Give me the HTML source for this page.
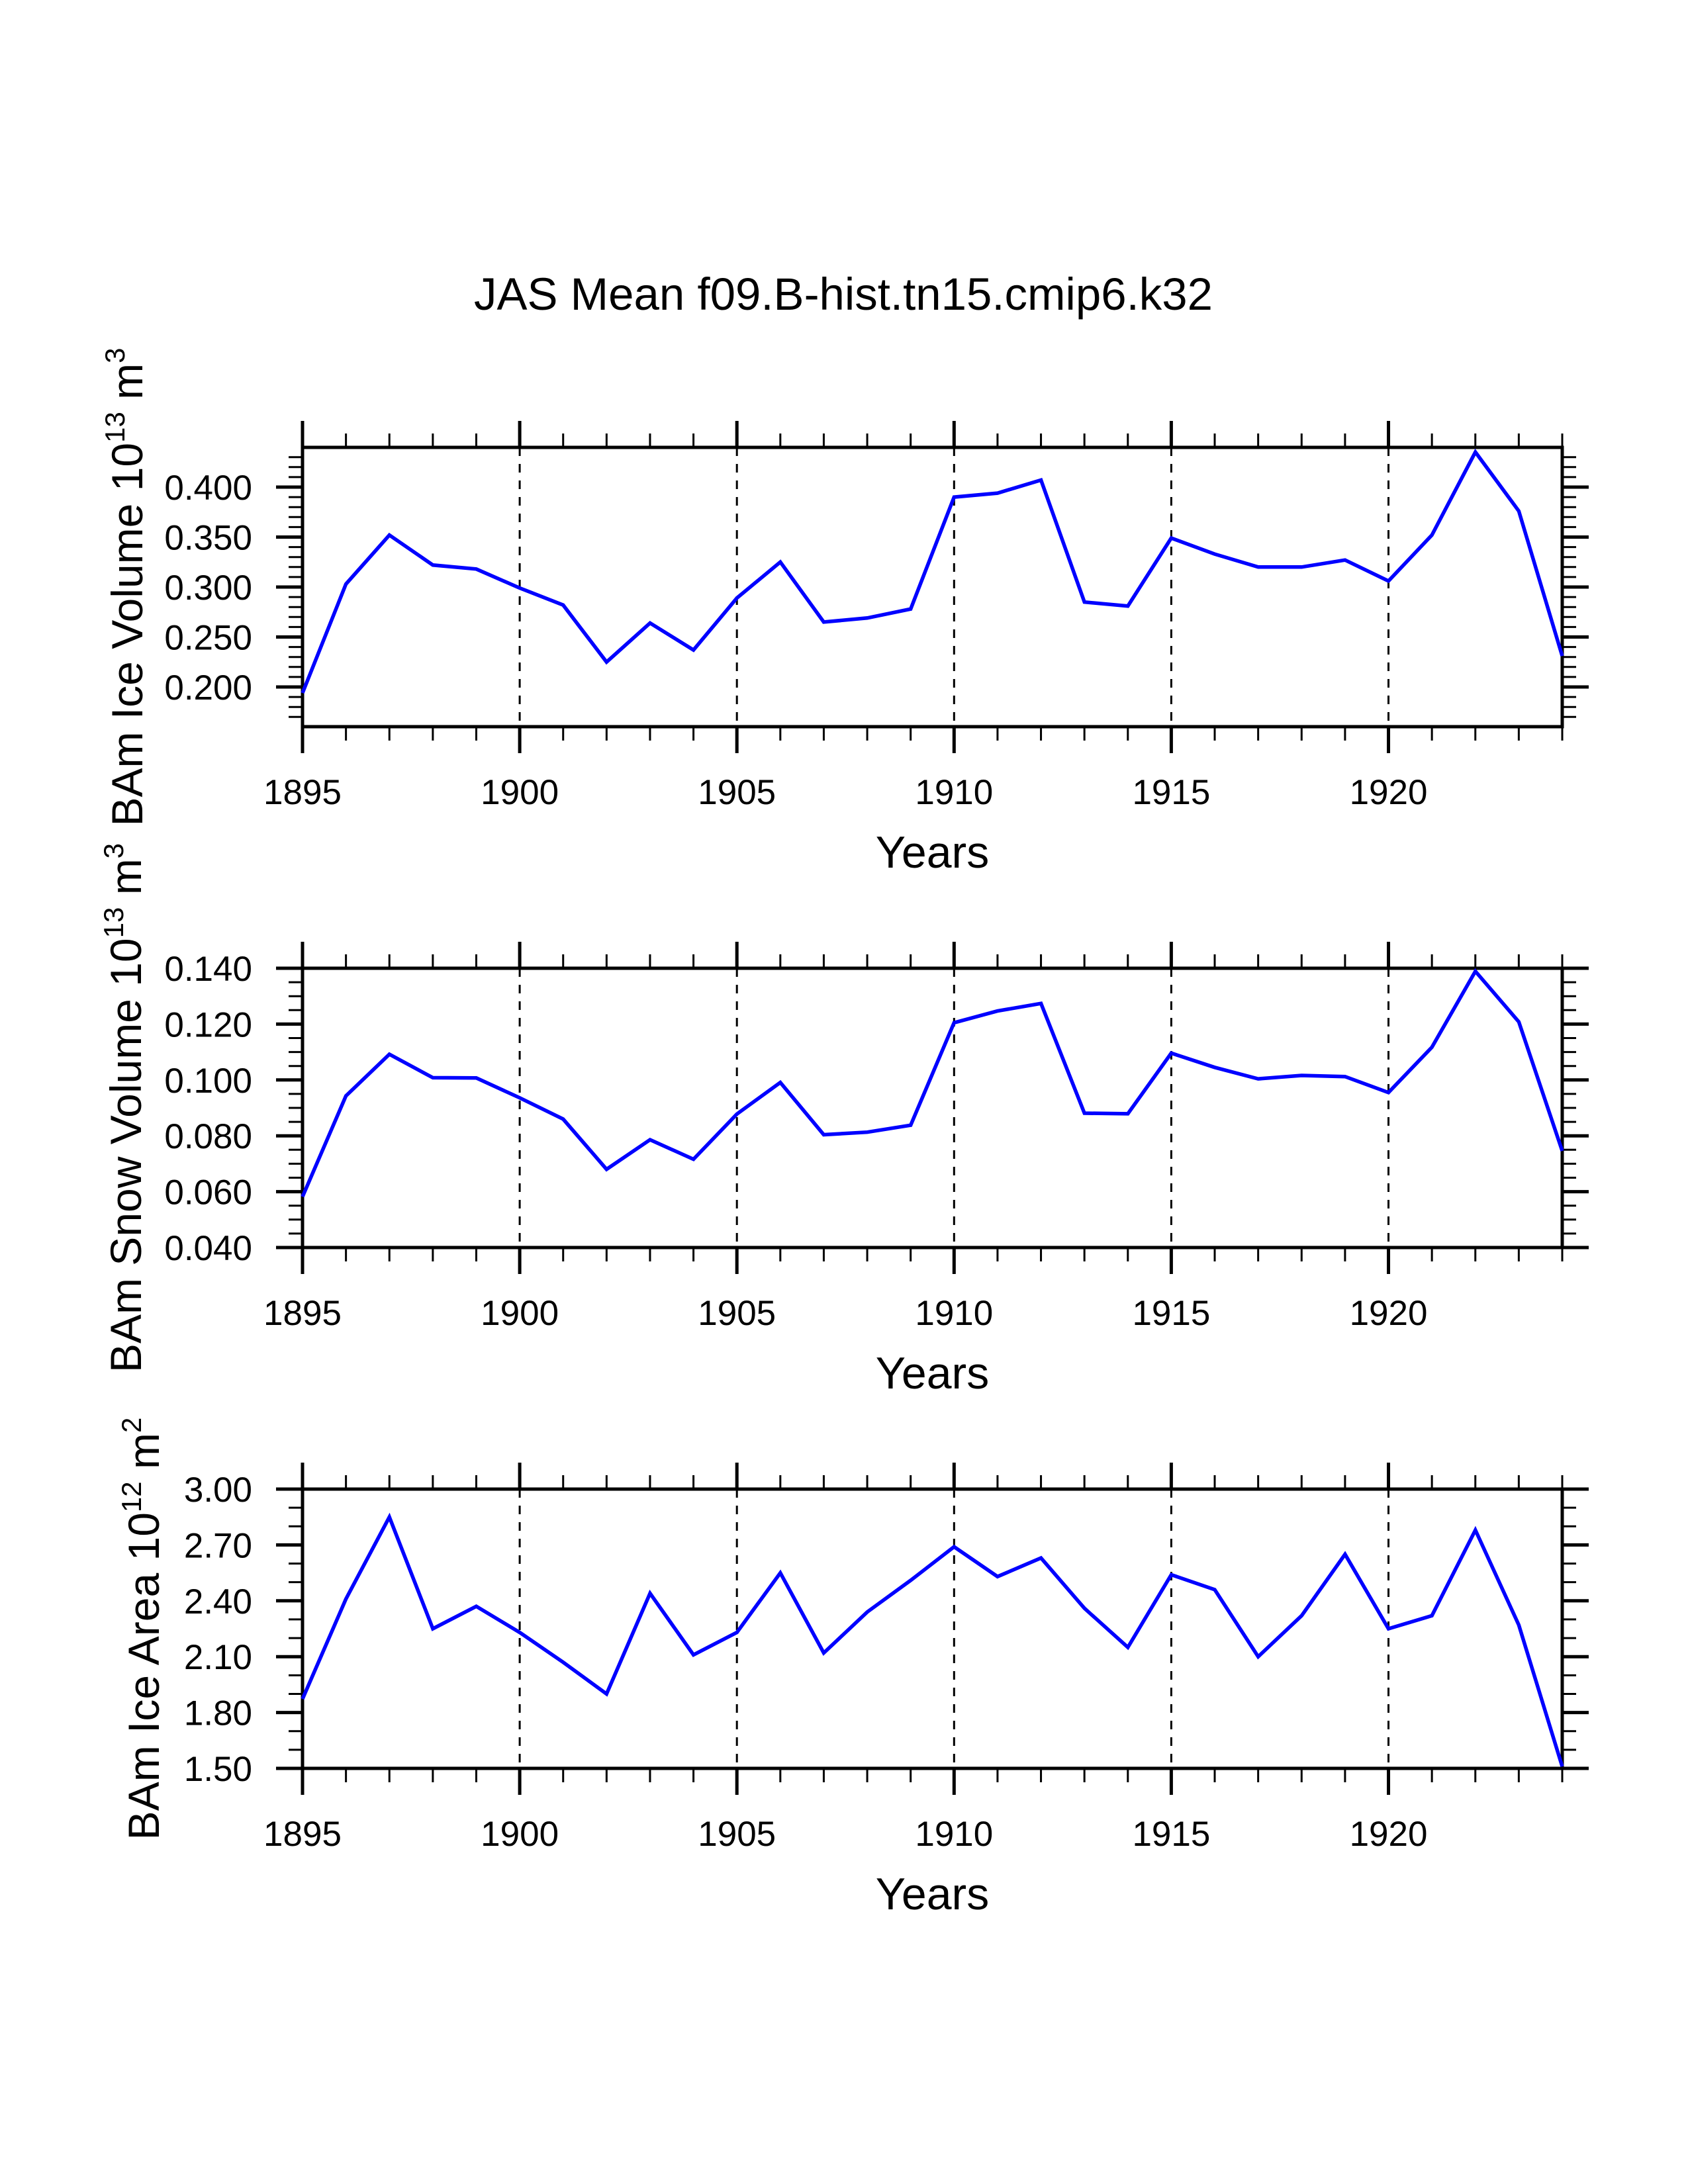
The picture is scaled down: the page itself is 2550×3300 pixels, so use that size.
<!DOCTYPE html>
<html><head><meta charset="utf-8"><style>
html,body{margin:0;padding:0;background:#fff;}
svg{display:block;font-family:"Liberation Sans",sans-serif;}
</style></head><body>
<svg id="chart" width="2550" height="3300" viewBox="0 0 2550 3300" xmlns="http://www.w3.org/2000/svg">
<rect x="0" y="0" width="2550" height="3300" fill="#fff"/>
<text x="1274" y="468" font-size="69" text-anchor="middle">JAS Mean f09.B-hist.tn15.cmip6.k32</text>
<g id="plots"></g>
</svg>
<script>
const years = [1895,1896,1897,1898,1899,1900,1901,1902,1903,1904,1905,1906,1907,1908,1909,1910,1911,1912,1913,1914,1915,1916,1917,1918,1919,1920,1921,1922,1923,1924];
const iceVolume = [0.194,0.303,0.352,0.322,0.318,0.299,0.282,0.225,0.264,0.237,0.289,0.325,0.265,0.269,0.278,0.390,0.394,0.407,0.285,0.281,0.349,0.333,0.320,0.320,0.327,0.306,0.352,0.435,0.376,0.231];
const snowVolume = [0.0582,0.0943,0.1092,0.1008,0.1007,0.0936,0.0860,0.0680,0.0786,0.0716,0.0878,0.0991,0.0804,0.0813,0.0838,0.1205,0.1247,0.1274,0.0881,0.0879,0.1096,0.1045,0.1004,0.1016,0.1012,0.0955,0.1117,0.1389,0.1208,0.0746];
const iceArea = [1.873,2.41,2.85,2.25,2.37,2.23,2.07,1.90,2.44,2.11,2.23,2.55,2.12,2.34,2.51,2.69,2.53,2.63,2.36,2.15,2.54,2.46,2.10,2.32,2.65,2.25,2.32,2.78,2.27,1.51];
const xTickLabels = ["1895","1900","1905","1910","1915","1920"];
const iceVolumeTicks = ["0.200","0.250","0.300","0.350","0.400"];
const snowVolumeTicks = ["0.040","0.060","0.080","0.100","0.120","0.140"];
const iceAreaTicks = ["1.50","1.80","2.10","2.40","2.70","3.00"];

const NS = "http://www.w3.org/2000/svg";
const root = document.getElementById('plots');
const L = 457, R = 2360;
const xMin = 1895, xMax = 1924;
function xs(v){ return L + (v - xMin) / (xMax - xMin) * (R - L); }

function mk(tag, attrs, parent){
  const e = document.createElementNS(NS, tag);
  for (const k in attrs) e.setAttribute(k, attrs[k]);
  parent.appendChild(e);
  return e;
}

const panels = [
  {name:'ice-volume', top:676, bottom:1098, yMin:0.16027, yMax:0.43973, minorStep:0.01, ticks:iceVolumeTicks, data:iceVolume, titleX:215, title:['BAm Ice Volume 10','13',' m','3']},
  {name:'snow-volume', top:1463, bottom:1885, yMin:0.040, yMax:0.140, minorStep:0.005, ticks:snowVolumeTicks, data:snowVolume, titleX:213, title:['BAm Snow Volume 10','13',' m','3']},
  {name:'ice-area', top:2250, bottom:2672, yMin:1.50, yMax:3.00, minorStep:0.1, ticks:iceAreaTicks, data:iceArea, titleX:240, title:['BAm Ice Area 10','12',' m','2']}
];

panels.forEach(p => {
  const g = mk('g', {}, root);
  
  
  const ys = v => p.bottom - (v - p.yMin) / (p.yMax - p.yMin) * (p.bottom - p.top);

  for (let yr = 1900; yr <= 1920; yr += 5) {
    const gl = mk('line', {x1:xs(yr), x2:xs(yr), y1:p.top, y2:p.bottom, stroke:'#000', 'stroke-width':3, 'stroke-dasharray':'13,12'}, g);
    
    
  }
  for (let yr = xMin; yr <= xMax; yr++) {
    const major = (yr % 5 === 0);
    const len = major ? 40 : 21;
    const w = major ? 5 : 3;
    mk('line', {x1:xs(yr), x2:xs(yr), y1:p.top, y2:p.top - len, stroke:'#000', 'stroke-width':w}, g);
    mk('line', {x1:xs(yr), x2:xs(yr), y1:p.bottom, y2:p.bottom + len, stroke:'#000', 'stroke-width':w}, g);
  }
  xTickLabels.forEach(lbl => {
    const t = mk('text', {x:xs(+lbl), y:p.bottom + 117, 'font-size':53, 'text-anchor':'middle'}, g);
    
    
    t.textContent = lbl;
  });
  const xt = mk('text', {x:(L + R) / 2, y:p.bottom + 213, 'font-size':68, 'text-anchor':'middle'}, g);
  
  
  xt.textContent = 'Years';

  const nMin = Math.ceil(p.yMin / p.minorStep - 1e-6), nMax = Math.floor(p.yMax / p.minorStep + 1e-6);
  for (let i = nMin; i <= nMax; i++) {
    const yv = ys(i * p.minorStep);
    mk('line', {x1:L, x2:L - 21, y1:yv, y2:yv, stroke:'#000', 'stroke-width':3}, g);
    mk('line', {x1:R, x2:R + 21, y1:yv, y2:yv, stroke:'#000', 'stroke-width':3}, g);
  }
  p.ticks.forEach(lbl => {
    const yv = ys(parseFloat(lbl));
    mk('line', {x1:L, x2:L - 40, y1:yv, y2:yv, stroke:'#000', 'stroke-width':5}, g);
    mk('line', {x1:R, x2:R + 40, y1:yv, y2:yv, stroke:'#000', 'stroke-width':5}, g);
    const t = mk('text', {x:381, y:yv + 19, 'font-size':53, 'text-anchor':'end'}, g);
    
    
    t.textContent = lbl;
  });

  const fr = mk('rect', {x:L, y:p.top, width:R - L, height:p.bottom - p.top, fill:'none', stroke:'#000', 'stroke-width':5}, g);
  
  

  const pts = p.data.map((v, i) => xs(years[i]).toFixed(1) + ',' + ys(v).toFixed(1)).join(' ');
  const pl = mk('polyline', {points:pts, fill:'none', stroke:'#0000ff', 'stroke-width':5.5, 'stroke-linejoin':'miter'}, g);
  
  

  const cy = (p.top + p.bottom) / 2;
  const yt = mk('text', {x:0, y:0, 'font-size':66, 'text-anchor':'middle', transform:'translate(' + p.titleX + ',' + cy + ') rotate(-90)'}, g);
  
  
  const s1 = mk('tspan', {}, yt); s1.textContent = p.title[0];
  const s2 = mk('tspan', {dy:-27, 'font-size':42}, yt); s2.textContent = p.title[1];
  const s3 = mk('tspan', {dy:27}, yt); s3.textContent = p.title[2];
  const s4 = mk('tspan', {dy:-27, 'font-size':42}, yt); s4.textContent = p.title[3];
});
</script>
</body></html>
